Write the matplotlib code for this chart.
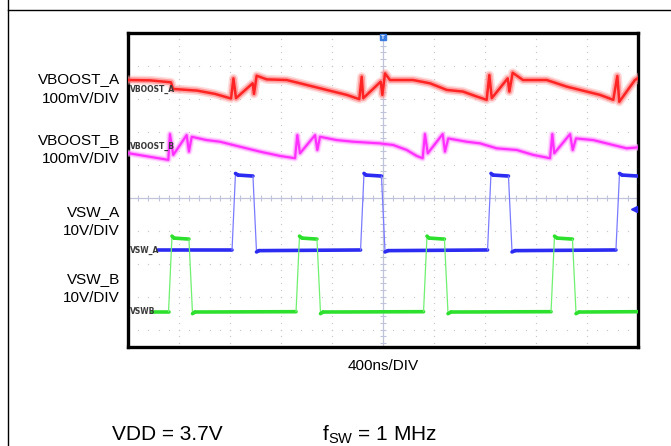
import numpy as np
import matplotlib
matplotlib.use("Agg")
import matplotlib.pyplot as plt
from matplotlib.collections import LineCollection

plt.rcParams['font.family'] = ['Liberation Sans', 'DejaVu Sans']
plt.rcParams['mathtext.fontset'] = 'custom'
plt.rcParams['mathtext.rm'] = 'Liberation Sans'

# ---- data: time (ns, 400 ns/div) and screen level (divisions from centre) ----
vboost_a_t = [0, 173, 337, 353, 541, 682, 808, 827, 847, 978, 988, 1009, 1088, 1245,
              1402, 1558, 1715, 1814, 1833, 1845, 1982, 1995, 2016, 2055, 2235, 2369,
              2500, 2627, 2735, 2813, 2834, 2853, 2978, 2991, 3017, 3098, 3284, 3441,
              3545, 3702, 3806, 3838, 3853, 3976, 4000]
vboost_a_v = [3.56, 3.55, 3.49, 3.29, 3.24, 3.14, 3.00, 3.61, 3.01, 3.46, 3.14, 3.69, 3.58, 3.56,
              3.41, 3.26, 3.11, 2.98, 3.66, 3.01, 3.51, 3.11, 3.76, 3.56, 3.56, 3.46,
              3.26, 3.21, 3.06, 2.96, 3.71, 3.01, 3.61, 3.21, 3.78, 3.56, 3.56, 3.36,
              3.26, 3.11, 2.96, 3.68, 2.90, 3.56, 3.62]

vboost_b_t = [8, 316, 329, 355, 460, 478, 500, 617, 722, 878, 1035, 1192, 1310, 1328, 1349,
              1467, 1485, 1506, 1637, 1767, 1976, 2081, 2186, 2264, 2311, 2329, 2351, 2468,
              2486, 2512, 2656, 2761, 2892, 3049, 3179, 3310, 3328, 3343, 3467, 3488, 3514,
              3649, 3806, 3911, 4000]
vboost_b_v = [1.34, 1.14, 1.92, 1.29, 1.89, 1.39, 1.84, 1.74, 1.69, 1.54, 1.39, 1.26, 1.19, 1.89, 1.34,
              1.89, 1.44, 1.84, 1.74, 1.69, 1.64, 1.59, 1.44, 1.26, 1.19, 1.92, 1.34, 1.92,
              1.39, 1.79, 1.69, 1.64, 1.49, 1.44, 1.29, 1.19, 1.92, 1.34, 1.92, 1.44, 1.79,
              1.74, 1.59, 1.49, 1.52]

vsw_a_t = [235, 816, 843, 863, 980, 1008, 1027, 1824, 1851, 1867, 1988, 2016, 2039,
           2820, 2847, 2863, 2984, 3012, 3035, 3827, 3855, 3875, 4000]
vsw_a_v = [-1.59, -1.59, 0.73, 0.68, 0.65, -1.65, -1.61, -1.59, 0.73, 0.68, 0.65, -1.65, -1.61,
           -1.59, 0.73, 0.68, 0.65, -1.65, -1.61, -1.59, 0.73, 0.68, 0.65]

vsw_b_t = [188, 318, 345, 361, 478, 506, 525, 1318, 1345, 1365, 1482, 1510, 1529,
           2318, 2345, 2361, 2482, 2510, 2533, 3318, 3345, 3365, 3486, 3514, 3537, 4000]
vsw_b_v = [-3.46, -3.46, -1.17, -1.23, -1.26, -3.52, -3.47, -3.46, -1.17, -1.23, -1.26, -3.52, -3.47,
           -3.46, -1.17, -1.23, -1.26, -3.52, -3.47, -3.46, -1.17, -1.23, -1.26, -3.52, -3.47, -3.46]

left_labels = [("VBOOST_A", 79), ("100mV/DIV", 99), ("VBOOST_B", 140), ("100mV/DIV", 159),
               ("VSW_A", 212), ("10V/DIV", 231), ("VSW_B", 279), ("10V/DIV", 298)]
trace_tags = [("VBOOST_A", 3.27), ("VBOOST_B", 1.54), ("VSW_A", -1.59), ("VSWB", -3.46)]

W, H = 671, 446
fig = plt.figure(figsize=(W / 100, H / 100), dpi=100)

def fx(px):
    return px / W

def fy(py):
    return 1 - py / H

# frame lines
fig.add_artist(plt.Line2D([fx(8), fx(8)], [0, 1], color='black', lw=1.0))
fig.add_artist(plt.Line2D([fx(8), 1], [fy(9.5), fy(9.5)], color='black', lw=1.0))

L, R, T, B = 128, 638, 32.5, 347
ax = fig.add_axes([fx(L), fy(B), (R - L) / W, (B - T) / H])
ax.set_xlim(0, 4000)
ax.set_ylim(-4.53, 5.0)
ax.set_xticks([]); ax.set_yticks([])
for s in ax.spines.values():
    s.set_linewidth(2.4)
    s.set_color('black')

# dotted grid
gx = np.arange(400, 4000, 400)
gy = np.arange(-4, 5, 1.0)
for x in gx:
    if x == 2000:
        continue
    yy = np.arange(-4.4, 5.0, 0.2)
    ax.plot(np.full_like(yy, x), yy, ls='none', marker='s', ms=0.85, color='#c8c8c8', mec='none')
for y in gy:
    if y == 0:
        continue
    xx = np.arange(80, 4000, 80)
    ax.plot(xx, np.full_like(xx, y, dtype=float), ls='none', marker='s', ms=0.85, color='#c8c8c8', mec='none')

# centre cross with ticks
cc = '#c0c4da'
ax.axvline(2000, color=cc, lw=0.9)
ax.axhline(0, color=cc, lw=0.9)
xt = np.arange(80, 4000, 80)
ax.plot(xt, np.zeros_like(xt, dtype=float), ls='none', marker='|', ms=4, mew=0.8, color=cc)
yt = np.arange(-4.4, 5.0, 0.2)
ax.plot(np.full_like(yt, 2000), yt, ls='none', marker='_', ms=4, mew=0.8, color=cc)

def trace(t, v, halo_c, mid_c, core_c, halo_w, core_w):
    ax.plot(t, v, color=halo_c, lw=halo_w, alpha=0.45, solid_joinstyle='round', zorder=3)
    ax.plot(t, v, color=mid_c, lw=(halo_w + core_w) / 2, alpha=0.55, solid_joinstyle='round', zorder=3)
    ax.plot(t, v, color=core_c, lw=core_w, solid_joinstyle='round', zorder=4)

trace(vboost_a_t, vboost_a_v, '#ffb0b0', '#ff7070', '#ff2424', 6.5, 1.8)
trace(vboost_b_t, vboost_b_v, '#ffc0ff', '#ff80ff', '#ff30ff', 5.0, 1.6)

def square(t, v, thick_c, thin_c):
    t = np.asarray(t, float); v = np.asarray(v, float)
    pts = np.column_stack([t, v])
    segs = np.stack([pts[:-1], pts[1:]], axis=1)
    steep = np.abs(np.diff(v)) > 0.3
    lws = np.where(steep, 0.9, 2.6)
    cols = [thin_c if s else thick_c for s in steep]
    lc = LineCollection(segs, linewidths=lws, colors=cols, capstyle='round', zorder=4)
    ax.add_collection(lc)

square(vsw_a_t, vsw_a_v, '#2b2bf2', '#7a7aff')
square(vsw_b_t, vsw_b_v, '#2ee02e', '#6ff06f')

for name, lvl in trace_tags:
    ax.text(12, lvl, name, fontsize=5.5, color='#3a3a3a', fontweight='bold',
            va='center', ha='left', zorder=6, family='DejaVu Sans')

# trigger markers
ax.plot([2000], [4.85], marker='s', ms=5, color='#3a7be0', clip_on=False, zorder=7)
ax.text(2000, 4.85, 'T', fontsize=4.5, color='white', ha='center', va='center',
        fontweight='bold', zorder=8)
ax.plot([3965], [-0.35], marker='<', ms=4, color='#2b2bf2', zorder=7)

# outside labels
for txt, py in left_labels:
    fig.text(fx(120), fy(py), txt, fontsize=11, ha='right', va='center')
fig.text(fx(383), fy(366), '400ns/DIV', fontsize=11, ha='center', va='center')
fig.text(fx(112), fy(435), 'VDD = 3.7V', fontsize=15, ha='left', va='center')
fig.text(fx(322), fy(435), r'f$_\mathregular{SW}$ = 1 MHz', fontsize=15, ha='left', va='center')

fig.savefig('out.png', dpi=100)
